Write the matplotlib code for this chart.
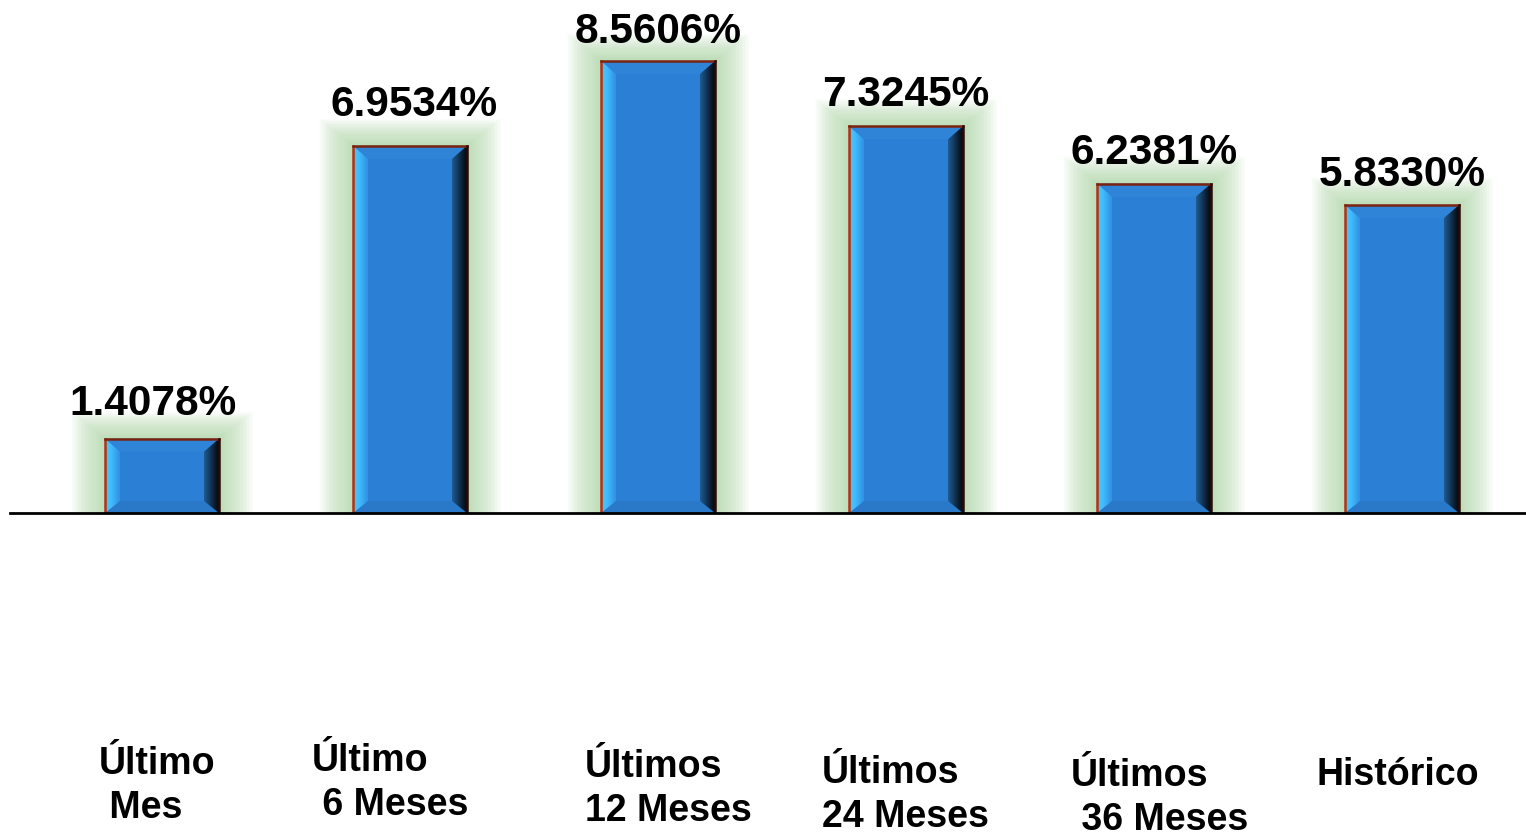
import matplotlib
matplotlib.use('Agg')
import matplotlib.pyplot as plt
import numpy as np
from matplotlib.patches import Polygon, Rectangle
from matplotlib import transforms
from matplotlib.colors import LinearSegmentedColormap

categories = ["Último\n Mes", "Último\n 6 Meses", "Últimos\n12 Meses",
              "Últimos\n24 Meses", "Últimos\n 36 Meses", "Histórico"]
values = [1.4078, 6.9534, 8.5606, 7.3245, 6.2381, 5.8330]
value_labels = ["1.4078%", "6.9534%", "8.5606%", "7.3245%", "6.2381%", "5.8330%"]

# label placement styling (pixel offsets relative to bar centre, y in figure px from top)
label_dx_px = [-63, -98, -73, -84, -83, -86]
label_y_px = [786, 783, 789, 795, 798, 775]
value_dx_px = [-9, 4, 0, 0, 0, 0]
value_dy_px = [24, 30, 18, 20, 20, 19]

W, H = 1526, 835
fig = plt.figure(figsize=(W / 100, H / 100), dpi=100)
base_px = 513
ax = fig.add_axes([10 / W, (H - base_px) / H, 1 - 10 / W, base_px / H])
px_x = 248.0
px_y = 52.8
x = np.arange(len(values))

plt.rcParams['font.family'] = ['Liberation Sans', 'DejaVu Sans']

bw = 114 / px_x
# glow
for k in range(24):
    pad = 34 - k * 1.4
    padx = pad / px_x
    pady = (pad * 0.8) / px_y
    for xi, v in zip(x, values):
        ax.add_patch(Rectangle((xi - bw / 2 - padx, 0), bw + 2 * padx, v + pady,
                               facecolor='#a8d5a0', edgecolor='none', alpha=0.045, zorder=1))

bars = ax.bar(x, values, width=bw, color='#2B7FD5', edgecolor='none', zorder=2)

bx = 15 / px_x
byt = 13 / px_y
byb = 12 / px_y
cm_left = LinearSegmentedColormap.from_list('l', ['#45C4FF', '#42C0FE', '#38AAF2', '#2F90E2'])
cm_right = LinearSegmentedColormap.from_list('r', ['#1F5A92', '#163E66', '#0C2136', '#04080E'])
grad = np.linspace(0, 1, 64).reshape(1, -1)
for b in bars:
    x0 = b.get_x()
    x1 = x0 + b.get_width()
    h = b.get_height()
    # top bevel
    ax.add_patch(Polygon([(x0, h), (x1, h), (x1 - bx, h - byt), (x0 + bx, h - byt)],
                         closed=True, facecolor='#2F84D8', edgecolor='none', zorder=3))
    # bottom bevel
    ax.add_patch(Polygon([(x0, 0), (x1, 0), (x1 - bx, byb), (x0 + bx, byb)],
                         closed=True, facecolor='#2A78C8', edgecolor='none', zorder=3))
    # left bevel
    pl = Polygon([(x0, 0), (x0, h), (x0 + bx, h - byt), (x0 + bx, byb)], closed=True,
                 facecolor='none', edgecolor='none', zorder=3)
    ax.add_patch(pl)
    im = ax.imshow(grad, cmap=cm_left, extent=[x0, x0 + bx, 0, h], aspect='auto', zorder=3,
                   interpolation='bilinear')
    im.set_clip_path(pl)
    # right bevel
    pr = Polygon([(x1, 0), (x1, h), (x1 - bx, h - byt), (x1 - bx, byb)], closed=True,
                 facecolor='none', edgecolor='none', zorder=3)
    ax.add_patch(pr)
    im2 = ax.imshow(grad, cmap=cm_right, extent=[x1 - bx, x1, 0, h], aspect='auto',
                    zorder=3, interpolation='bilinear')
    im2.set_clip_path(pr)
    # outline
    ax.plot([x0, x0], [0, h], color='#B8300E', lw=1.8, zorder=4)
    ax.plot([x0, x1], [h, h], color='#7A2410', lw=1.8, zorder=4, solid_capstyle='projecting')
    ax.plot([x1, x1], [h, 0], color='#2a0a04', lw=1.8, zorder=4)

ax.set_xlim(-0.613, 5.5)
ax.set_ylim(0, base_px / px_y)
ax.axhline(0, color='black', lw=2, zorder=5, clip_on=False)
for s in ax.spines.values():
    s.set_visible(False)
ax.set_xticks([])
ax.set_yticks([])
ax.patch.set_alpha(0)

for xi, v, lab, dx, dy in zip(x, values, value_labels, value_dx_px, value_dy_px):
    ax.annotate(lab, (xi, v), xytext=(dx, dy), textcoords='offset pixels',
                ha='center', va='baseline', fontsize=30.5, fontweight='bold', color='black',
                family=['Liberation Sans', 'DejaVu Sans'], zorder=6, annotation_clip=False)

trans = transforms.blended_transform_factory(ax.transData, fig.transFigure)
for xi, lab, dx, yp in zip(x, categories, label_dx_px, label_y_px):
    ax.text(xi + dx / px_x, 1 - yp / H, lab, transform=trans, ha='left', va='center',
            multialignment='left', fontsize=27, fontweight='bold', color='black',
            family=['Liberation Sans', 'DejaVu Sans'], linespacing=1.26)

fig.savefig('out.png', dpi=100)
